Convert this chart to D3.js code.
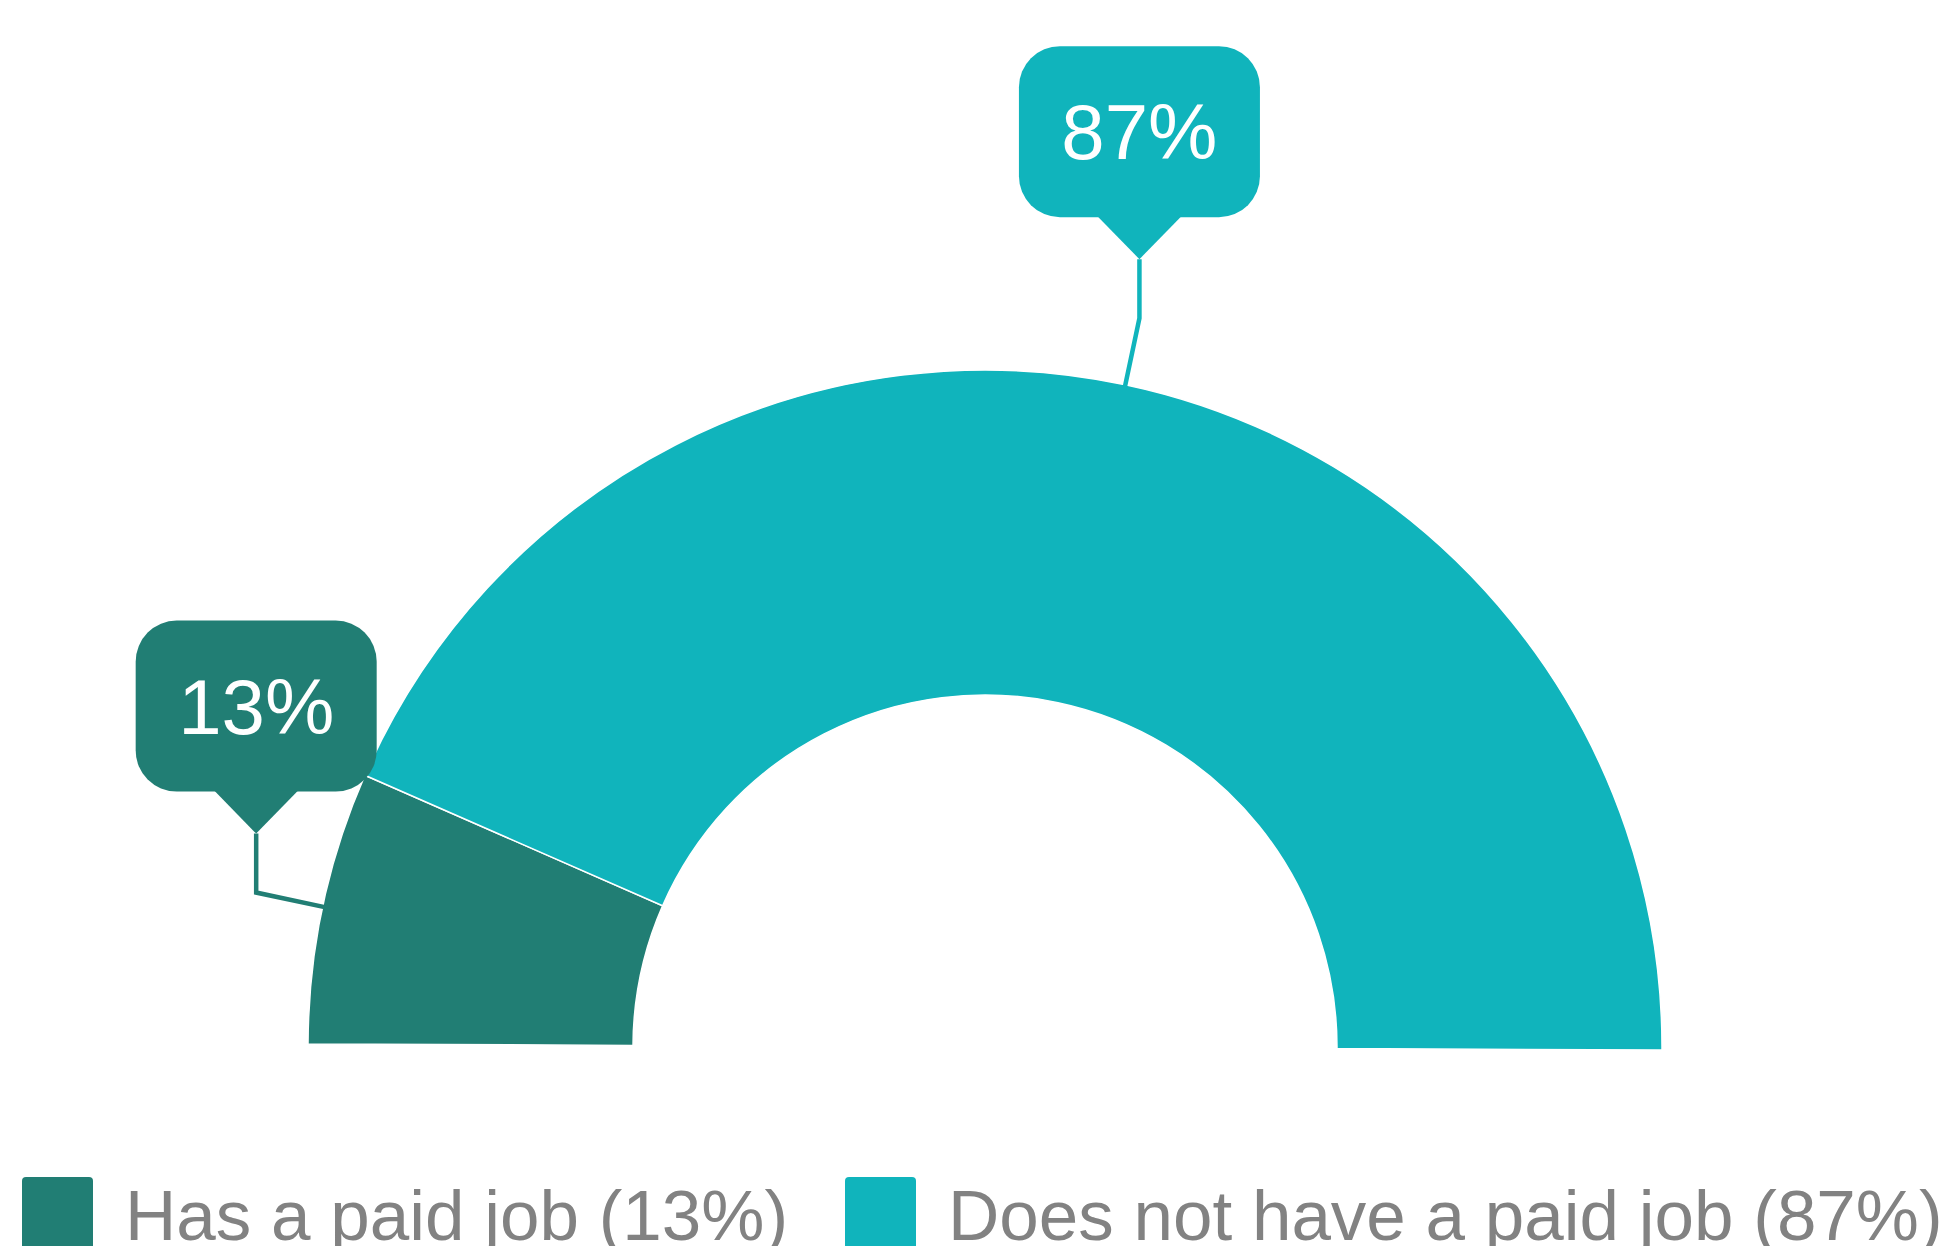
<!DOCTYPE html>
<html>
<head>
<meta charset="utf-8">
<script src="https://cdn.jsdelivr.net/npm/d3@7/dist/d3.min.js"></script>
<style>
  html, body { margin: 0; padding: 0; background: #fff; overflow: hidden; }
  svg { display: block; }
  svg text { font-family: 'Liberation Sans', Arimo, Arial, Helvetica, sans-serif; }
</style>
</head>
<body>
<div id="chart"></div>
<script>
// data
const categories = ['Has a paid job', 'Does not have a paid job'];
const values = [13, 87];
const colors = ['#217e74', '#10b4bc'];

const W = 1954, H = 1246;
const cx = 985, cy = 1047;
const outerR = 677, innerR = 352;
const tilt = 0.0046; // the half donut sits very slightly rotated

const svg = d3.select('#chart').append('svg')
  .attr('width', W)
  .attr('height', H);

// ─── Half donut ──────────────────────────────────────────────────────────────

const pie = d3.pie()
  .sort(null)
  .value(d => d)
  .startAngle(-Math.PI / 2 + tilt)
  .endAngle(Math.PI / 2 + tilt);

const arcs = pie(values);

const arc = d3.arc().innerRadius(innerR).outerRadius(outerR);
const edge = d3.arc().innerRadius(outerR + 68).outerRadius(outerR + 68);
const rim = d3.arc().innerRadius(outerR - 2).outerRadius(outerR - 2);

const g = svg.append('g').attr('transform', `translate(${cx},${cy})`);

g.selectAll('path.slice')
  .data(arcs)
  .enter().append('path')
  .attr('class', 'slice')
  .attr('d', arc)
  .attr('fill', (d, i) => colors[i])
  .attr('stroke', '#fff')
  .attr('stroke-width', 1.5);

// ─── Callout labels ──────────────────────────────────────────────────────────

const boxW = 241, boxH = 171, boxR = 41, tip = 42, rise = 59;

arcs.forEach((d, i) => {
  const [x0, y0] = rim.centroid(d);
  const [x1, y1] = edge.centroid(d);
  const ax = x1, ay = y1 - rise; // pointer apex

  g.append('polyline')
    .attr('points', [[x0, y0], [x1, y1], [ax, ay]].map(p => p.join(',')).join(' '))
    .attr('fill', 'none')
    .attr('stroke', colors[i])
    .attr('stroke-width', 4.5);

  const bx = ax - boxW / 2, by = ay - tip - boxH;
  const lbl = g.append('g');

  lbl.append('rect')
    .attr('x', bx).attr('y', by)
    .attr('width', boxW).attr('height', boxH)
    .attr('rx', boxR).attr('ry', boxR)
    .attr('fill', colors[i]);

  lbl.append('path')
    .attr('d', `M${ax - tip},${ay - tip - 1}L${ax + tip},${ay - tip - 1}L${ax},${ay}Z`)
    .attr('fill', colors[i]);

  lbl.append('text')
    .attr('x', ax)
    .attr('y', by + 113)
    .attr('text-anchor', 'middle')
    .attr('font-size', 78)
    .attr('fill', '#fff')
    .text(values[i] + '%');
});

// ─── Legend ─────────────────────────────────────────────────────────────────

const legendX = [22, 845];
const legend = svg.append('g');

categories.forEach((c, i) => {
  legend.append('rect')
    .attr('x', legendX[i]).attr('y', 1177)
    .attr('width', 71).attr('height', 80)
    .attr('rx', 4).attr('ry', 4)
    .attr('fill', colors[i]);

  legend.append('text')
    .attr('x', legendX[i] + 103)
    .attr('y', 1240)
    .attr('font-size', 71)
    .attr('fill', '#828282')
    .text(`${c} (${values[i]}%)`);
});
</script>
</body>
</html>
